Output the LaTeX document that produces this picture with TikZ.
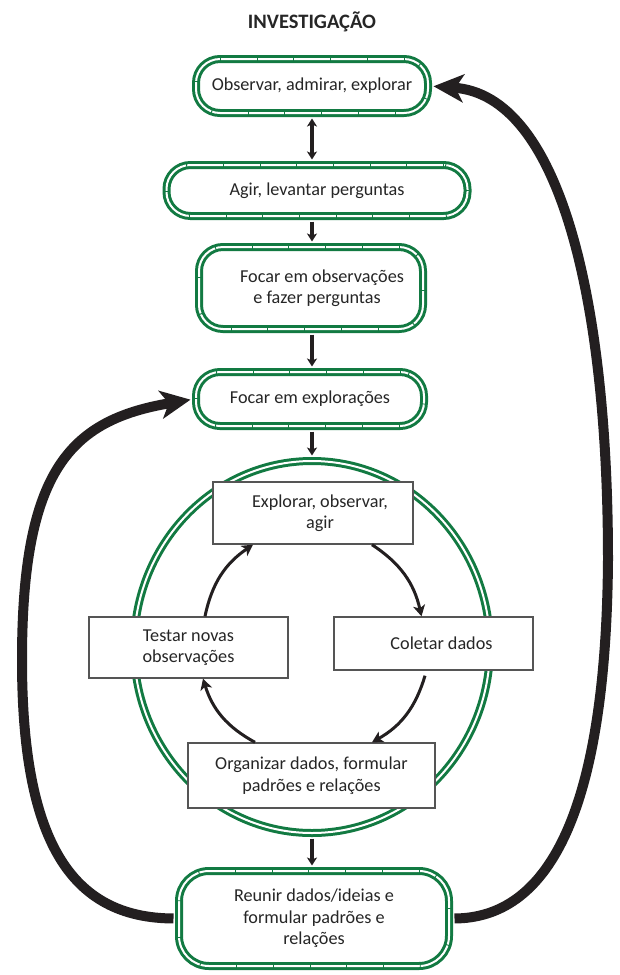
\documentclass[tikz,border=0pt]{standalone}
\usepackage{fontspec}
\setmainfont{Carlito}
\usetikzlibrary{arrows.meta, shapes.geometric, decorations.markings}
\definecolor{ringgreen}{RGB}{18,122,66}
\definecolor{inkblack}{RGB}{35,31,32}
\definecolor{boxgray}{RGB}{85,85,85}

\begin{document}
\begin{tikzpicture}[x=1pt, y=1pt,
  every node/.style={font=\fontsize{18.2}{21.5}\selectfont, text=black!85},
  stage/.style={draw=ringgreen, double=white, double distance=2pt, line width=3pt,
    rounded corners=24pt, fill=white, inner sep=0pt, align=center,
    postaction={decorate, decoration={markings,
      mark=between positions 0 and 1 step 36.7pt with
        {\draw[ringgreen, line width=0.9pt] (0,-3pt) -- (0,3pt);}}}},
  ring/.style={ellipse, draw=ringgreen, double=white, double distance=2pt,
    line width=3pt, inner sep=0pt},
  task/.style={rectangle, draw=boxgray, line width=1.4pt, fill=white,
    inner sep=0pt, align=center},
  cyc/.style={draw=inkblack, line width=3pt,
    -{Stealth[length=11pt, width=12pt, inset=3pt]}},
  vconn/.style={draw=inkblack, line width=3.5pt,
    -{Stealth[length=8pt, width=10pt, inset=2pt]},
    shorten <=4pt, shorten >=4pt},
  bigarrow/.style={draw=inkblack, line width=10pt,
    -{Stealth[length=30pt, width=28pt, inset=8pt]}, shorten <=4pt, shorten >=4pt}
]
\useasboundingbox (0,0) rectangle (620,-975);

% title
\node[font=\bfseries\fontsize{20.5}{24}\selectfont] (title) at (312,-22) {INVESTIGAÇÃO};

% big exploration ring
\node[ring, minimum width=356pt, minimum height=372pt] (loop) at (312,-647) {};

% stages of the investigation
\node[stage, minimum width=232pt, minimum height=54pt] (b1) at (312,-86)
  {Observar, admirar, explorar};
\node[stage, minimum width=301pt, minimum height=51pt] (b2) at (317,-190.5)
  {Agir, levantar perguntas};
\node[stage, minimum width=224pt, minimum height=82pt] (b3) at (311,-288)
  {\hspace*{22pt}Focar em observações\\ \hspace*{12pt}e fazer perguntas};
\node[stage, minimum width=228pt, minimum height=54pt] (b4) at (310,-399)
  {Focar em explorações};
\node[stage, rounded corners=30pt, minimum width=270pt, minimum height=95pt] (b5) at (314,-918.5)
  {Reunir dados/ideias e\\ formular padrões e\\ relações};

% inner cycle
\node[task, minimum width=200pt, minimum height=62pt] (explo) at (313,-513)
  {\hspace*{14pt}Explorar, observar,\\ \hspace*{14pt}agir};
\node[task, minimum width=199pt, minimum height=61pt] (testar) at (188.5,-647.5)
  {Testar novas\\ observações};
\node[task, minimum width=199pt, minimum height=53pt] (coletar) at (433.5,-643.5)
  {\hspace*{16pt}Coletar dados};
\node[task, minimum width=247pt, minimum height=65pt] (organ) at (311.5,-775.5)
  {Organizar dados, formular\\ padrões e relações};

\draw[cyc] ([xshift=59pt]explo.south) to[bend left=22] ([xshift=-12pt]coletar.north);
\draw[cyc] ([xshift=-8.5pt,yshift=-5pt]coletar.south) to[bend left=22] ([xshift=60.5pt]organ.north);
\draw[cyc] ([xshift=-56.5pt]organ.north) to[bend left=22] ([xshift=14.5pt]testar.south);
\draw[cyc] ([xshift=16.5pt]testar.north) to[bend left=22] ([xshift=-60pt]explo.south);

% vertical links
\draw[vconn, {Stealth[length=8pt, width=10pt, inset=2pt]}-{Stealth[length=8pt, width=10pt, inset=2pt]}]
  (b1.south) -- (b1.south |- b2.north);
\draw[vconn] (b1.south |- b2.south) -- (b1.south |- b3.north);
\draw[vconn] (b1.south |- b3.south) -- (b1.south |- b4.north);
\draw[vconn] (b1.south |- b4.south) -- (b1.south |- loop.north);
\draw[vconn] (b1.south |- loop.south) -- (b1.south |- b5.north);

% feedback arrows
\draw[bigarrow] (b5.east) .. controls (545,-918) and (606,-820) .. (608,-560)
  .. controls (608,-300) and (560,-95) .. (b1.east);
\draw[bigarrow] (b5.west) .. controls (70,-918) and (22,-840) .. (22,-660)
  .. controls (22,-470) and (70,-420) .. (b4.west);
\end{tikzpicture}
\end{document}
